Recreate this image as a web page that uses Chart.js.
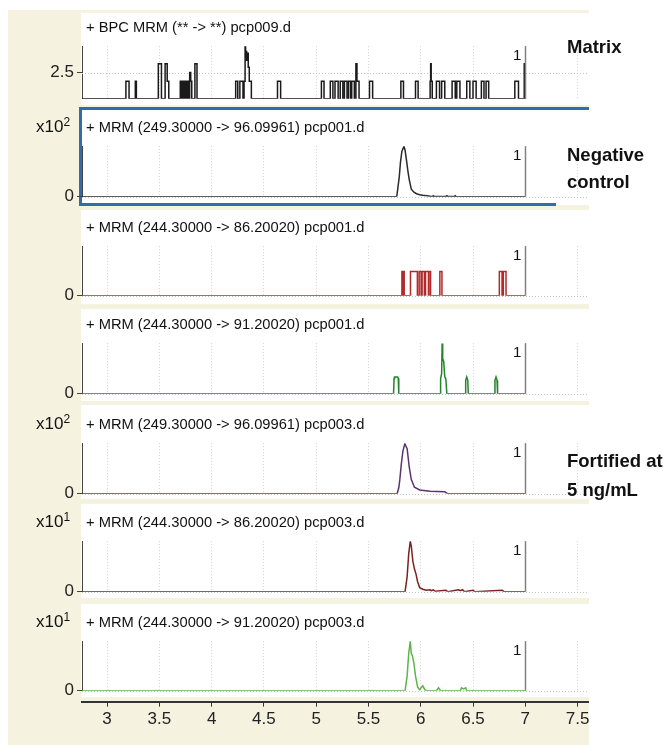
<!DOCTYPE html>
<html>
<head>
<meta charset="utf-8">
<script src="https://cdn.jsdelivr.net/npm/chart.js@4.4.1/dist/chart.umd.min.js"></script>
<style>
  html, body { margin: 0; padding: 0; background: #fff; }
  #page { position: relative; width: 665px; height: 745px; overflow: hidden; font-family: "Liberation Sans", Arial, sans-serif; color: #111; }
  .cream { position: absolute; left: 8px; top: 10px; width: 581px; height: 735px; background: #f5f2e0; }
  .pane { position: absolute; left: 81px; width: 508px; background: #fff; }
  .blue { position: absolute; background: #2f6cb0; }
  canvas { position: absolute; left: 0; }
  .title { position: absolute; left: 86px; font-size: 14.7px; line-height: 16px; white-space: nowrap; }
  .mult { position: absolute; left: 36px; font-size: 17px; line-height: 18px; }
  .mult sup { font-size: 12px; vertical-align: 6px; line-height: 0; }
  .one { position: absolute; left: 513px; font-size: 15px; line-height: 16px; }
  .side { position: absolute; left: 567px; font-size: 18.5px; font-weight: bold; line-height: 20px; white-space: nowrap; }
</style>
</head>
<body>
<div id="page">
  <div class="cream"></div>
  <div class="pane" style="top:13px;height:92px"></div>
  <div class="pane" style="top:108px;height:97px"></div>
  <div class="pane" style="top:210px;height:94px"></div>
  <div class="pane" style="top:309px;height:92px"></div>
  <div class="pane" style="top:405px;height:94px"></div>
  <div class="pane" style="top:504px;height:94px"></div>
  <div class="pane" style="top:604px;height:93px"></div>
  <div class="blue" style="left:79px;top:107px;width:510px;height:3px"></div>
  <div class="blue" style="left:79px;top:203px;width:477px;height:3px"></div>
  <div class="blue" style="left:79px;top:107px;width:3px;height:99px"></div>
</div>
<script>
// x axis (retention time, min)
const xTickValues = [3, 3.5, 4, 4.5, 5, 5.5, 6, 6.5, 7, 7.5];
const runStart = 2.76;
const runEnd = 7.0;

// Matrix, BPC MRM pcp009.d : level changes (value holds until next time)
const matrixTimes = [2.76, 3.18, 3.21, 3.27, 3.28, 3.49, 3.52, 3.555, 3.575, 3.59,
  3.70, 3.71, 3.72, 3.725, 3.73, 3.735, 3.74, 3.745, 3.75, 3.76, 3.77, 3.78, 3.79, 3.80, 3.81, 3.84, 3.86,
  4.23, 4.25, 4.27, 4.30, 4.31, 4.32, 4.325, 4.33, 4.335, 4.34, 4.35, 4.36, 4.38,
  4.63, 4.66, 5.05, 5.075, 5.135, 5.16, 5.18, 5.21, 5.23, 5.255, 5.27, 5.295, 5.31, 5.33, 5.34, 5.365,
  5.38, 5.39, 5.41, 5.51, 5.54, 5.81, 5.835, 5.95, 5.975, 6.09, 6.095, 6.10, 6.11,
  6.15, 6.18, 6.20, 6.23, 6.30, 6.33, 6.345, 6.375, 6.44, 6.47, 6.50, 6.53, 6.58, 6.605, 6.625, 6.65,
  6.90, 6.935, 6.99, 7.0];
const matrixLevels = [1, 2, 1, 2, 1, 3, 1, 3, 2, 1,
  2, 1, 2, 1, 2, 1, 2, 1, 2, 1, 2, 1, 2.5, 2, 1, 3, 1,
  2, 1, 2, 1, 2, 4, 3.4, 3.7, 3.2, 3.6, 2.8, 2, 1,
  2, 1, 2, 1, 2, 1, 2, 1, 2, 1, 2, 1, 2, 1, 2, 1,
  3, 2, 1, 2, 1, 2, 1, 2, 1, 2, 3, 2, 1,
  2, 1, 2, 1, 2, 1, 2, 1, 2, 1, 2, 1, 2, 1, 2, 1,
  2, 1, 3, 1];

// Negative control, MRM 249.3 -> 96.1 pcp001.d (x10^2 counts)
const neg96Time = [2.76, 5.77, 5.78, 5.795, 5.806, 5.82, 5.84, 5.85, 5.864, 5.878, 5.89, 5.91, 5.935, 5.96, 5.99, 6.02, 6.06, 6.09,
  6.11, 6.12, 6.13, 6.24, 6.25, 6.26, 6.32, 6.33, 6.34, 7.0];
const neg96Counts = [0, 0, 0.15, 0.4, 0.68, 0.9, 1.0, 0.92, 0.72, 0.5, 0.34, 0.15, 0.09, 0.06, 0.04, 0.03, 0.02, 0.01,
  0.005, 0.02, 0.005, 0.005, 0.02, 0.005, 0.005, 0.02, 0, 0];

// Negative control, MRM 244.3 -> 86.2 pcp001.d : level changes
const neg86Times = [2.76, 5.82, 5.826, 5.83, 5.835, 5.838, 5.842, 5.902, 5.968, 5.985, 6.004, 6.013, 6.035, 6.046, 6.074, 6.078, 6.094,
  6.183, 6.203, 6.752, 6.778, 6.79, 6.816, 7.0];
const neg86Levels = [0, 1, 0, 1, 0, 1, 0, 1, 0, 1, 0, 1, 0, 1, 0, 1, 0,
  1, 0, 1, 0, 1, 0, 0];

// Negative control, MRM 244.3 -> 91.2 pcp001.d
const neg91Time = [2.76, 5.74, 5.745, 5.75, 5.78, 5.785, 5.79, 6.185, 6.19, 6.2, 6.205, 6.21, 6.22, 6.23, 6.24, 6.25,
  6.425, 6.43, 6.44, 6.45, 6.455, 6.705, 6.71, 6.72, 6.73, 6.735, 7.0];
const neg91Counts = [0, 0, 0.9, 1, 1, 0.9, 0, 0, 0.9, 1.2, 3, 2.1, 1.9, 1, 0.9, 0,
  0, 0.8, 1, 0.8, 0, 0, 0.8, 1, 0.8, 0, 0];

// Fortified 5 ng/mL, MRM 249.3 -> 96.1 pcp003.d (x10^2 counts)
const fort96Time = [2.76, 5.774, 5.79, 5.80, 5.815, 5.83, 5.848, 5.87, 5.89, 5.91, 5.94, 5.99, 6.09, 6.23, 6.26, 7.0];
const fort96Counts = [0, 0, 0.12, 0.28, 0.6, 0.85, 0.99, 0.89, 0.53, 0.28, 0.13, 0.075, 0.05, 0.04, 0, 0];

// Fortified 5 ng/mL, MRM 244.3 -> 86.2 pcp003.d (x10^1 counts)
const fort86Time = [2.76, 5.85, 5.87, 5.885, 5.90, 5.91, 5.925, 5.94, 5.955, 5.97, 5.99, 6.02, 6.05, 6.09, 6.10, 6.12, 6.14,
  6.24, 6.26, 6.36, 6.38, 6.40, 6.42, 6.50, 6.52, 6.78, 6.80, 7.0];
const fort86Counts = [0, 0, 0.3, 0.75, 1.0, 0.9, 0.6, 0.45, 0.35, 0.2, 0.08, 0.05, 0.03, 0.04, 0.02, 0.04, 0.01,
  0.03, 0, 0.04, 0.02, 0.04, 0, 0.03, 0, 0.03, 0, 0];

// Fortified 5 ng/mL, MRM 244.3 -> 91.2 pcp003.d (x10^1 counts)
const fort91Time = [2.76, 5.85, 5.87, 5.885, 5.90, 5.91, 5.92, 5.935, 5.95, 5.97, 5.99, 6.00, 6.02, 6.04, 6.06, 6.15, 6.17, 6.19,
  6.38, 6.39, 6.41, 6.43, 6.44, 7.0];
const fort91Counts = [0, 0, 0.3, 0.75, 1.0, 0.75, 0.71, 0.55, 0.3, 0.08, 0.02, 0.05, 0.1, 0.02, 0, 0, 0.06, 0,
  0, 0.06, 0.04, 0.06, 0, 0];

const panelTitles = [
  '+ BPC MRM (** -> **) pcp009.d',
  '+ MRM (249.30000 -> 96.09961) pcp001.d',
  '+ MRM (244.30000 -> 86.20020) pcp001.d',
  '+ MRM (244.30000 -> 91.20020) pcp001.d',
  '+ MRM (249.30000 -> 96.09961) pcp003.d',
  '+ MRM (244.30000 -> 86.20020) pcp003.d',
  '+ MRM (244.30000 -> 91.20020) pcp003.d'
];
const panelExponents = [null, 2, null, null, 2, 1, 1];
const panelYTicks = [[2.5], [0], [0], [0], [0], [0], [0]];

Chart.defaults.font.family = '"Liberation Sans", Arial, sans-serif';
Chart.defaults.color = '#222';

const page = document.getElementById('page');

function toPoints(xs, ys) {
  return xs.map((x, i) => ({ x: x, y: ys[i] }));
}

// dotted y gridlines and the end-of-run line at 7 min
const panelFrame = {
  id: 'panelFrame',
  beforeDatasetsDraw(chart) {
    const { ctx, chartArea: a, scales: { y } } = chart;
    ctx.save();
    ctx.strokeStyle = '#c4c4c4';
    ctx.lineWidth = 1;
    ctx.setLineDash([1, 2]);
    y.ticks.forEach(t => {
      const py = Math.round(y.getPixelForValue(t.value)) + 0.5;
      ctx.beginPath();
      ctx.moveTo(a.left, py);
      ctx.lineTo(a.right, py);
      ctx.stroke();
    });
    ctx.restore();
  },
  afterDatasetsDraw(chart) {
    const { ctx, chartArea: a, scales: { x } } = chart;
    const xe = Math.round(x.getPixelForValue(runEnd)) + 0.5;
    ctx.save();
    ctx.strokeStyle = '#808080';
    ctx.lineWidth = 1.5;
    ctx.beginPath();
    ctx.moveTo(xe, a.top);
    ctx.lineTo(xe, a.bottom);
    ctx.stroke();
    ctx.restore();
  }
};

function addText(cls, html, top) {
  const d = document.createElement('div');
  d.className = cls;
  d.style.top = top + 'px';
  d.innerHTML = html;
  page.appendChild(d);
}

function makePanel(i, plotTop, plotBottom, points, color, yMin, yMax, stepped) {
  const pad = 12;
  const cv = document.createElement('canvas');
  cv.width = 600;
  cv.height = plotBottom - plotTop + 2 * pad;
  cv.style.top = (plotTop - pad) + 'px';
  page.appendChild(cv);

  new Chart(cv, {
    type: 'line',
    data: {
      datasets: [{
        data: points,
        borderColor: color,
        borderWidth: 1.5,
        pointRadius: 0,
        stepped: stepped ? 'before' : false,
        tension: 0,
        fill: false
      }]
    },
    options: {
      responsive: false,
      animation: false,
      parsing: false,
      layout: { padding: { top: pad, bottom: pad, left: 0, right: 12 } },
      plugins: { legend: { display: false }, tooltip: { enabled: false } },
      scales: {
        x: {
          type: 'linear',
          min: runStart,
          max: 7.6,
          afterBuildTicks: ax => { ax.ticks = xTickValues.map(v => ({ value: v })); },
          ticks: { display: false },
          grid: { color: '#d2d2d2', drawTicks: false },
          border: { display: false, dash: [1, 2] }
        },
        y: {
          min: yMin,
          max: yMax,
          afterBuildTicks: ax => { ax.ticks = panelYTicks[i].map(v => ({ value: v })); },
          afterFit: ax => { ax.width = 82; },
          ticks: { font: { size: 17 }, color: '#222', padding: 3, callback: v => String(v) },
          grid: { drawOnChartArea: false, tickLength: 5, tickColor: '#444' },
          border: { display: true, color: '#444', width: 1 }
        }
      }
    },
    plugins: [panelFrame]
  });

  addText('title', panelTitles[i], plotTop - 26);
  addText('one', '1', plotTop + 2);
  if (panelExponents[i] !== null) {
    addText('mult', 'x10<sup>' + panelExponents[i] + '</sup>', plotTop - 27);
  }
}

makePanel(0, 45, 100, toPoints(matrixTimes, matrixLevels), '#1a1a1a', 1, 4, true);
makePanel(1, 145, 198, toPoints(neg96Time, neg96Counts), '#2a2a2a', 0, 1.0, false);
makePanel(2, 245, 297, toPoints(neg86Times, neg86Levels), '#b3282b', 0, 2.05, true);
makePanel(3, 342, 395, toPoints(neg91Time, neg91Counts), '#23842a', 0, 3.0, false);
makePanel(4, 442, 495, toPoints(fort96Time, fort96Counts), '#5a3470', 0, 1.0, false);
makePanel(5, 540, 593, toPoints(fort86Time, fort86Counts), '#7a2222', 0, 1.0, false);
makePanel(6, 640, 692, toPoints(fort91Time, fort91Counts), '#5cb54a', 0, 1.0, false);

// shared retention-time axis (canvas tall enough that the axis box is not capped)
const axCanvas = document.createElement('canvas');
axCanvas.width = 600;
axCanvas.height = 83;
axCanvas.style.top = '662px';
page.appendChild(axCanvas);
new Chart(axCanvas, {
  type: 'line',
  data: { datasets: [] },
  options: {
    responsive: false,
    animation: false,
    layout: { padding: { top: 0, bottom: 12, left: 82, right: 12 } },
    plugins: { legend: { display: false }, tooltip: { enabled: false } },
    scales: {
      x: {
        type: 'linear',
        min: runStart,
        max: 7.6,
        afterBuildTicks: ax => { ax.ticks = xTickValues.map(v => ({ value: v })); },
        ticks: { font: { size: 17 }, color: '#222', padding: 3, maxRotation: 0, autoSkip: false, callback: v => String(v) },
        grid: { drawOnChartArea: false, tickLength: 5, tickColor: '#333' },
        border: { display: true, color: '#333', width: 2 }
      },
      y: { display: false, min: 0, max: 1 }
    }
  }
});

addText('side', 'Matrix', 37);
addText('side', 'Negative', 145);
addText('side', 'control', 172);
addText('side', 'Fortified at', 451);
addText('side', '5 ng/mL', 480);
</script>
</body>
</html>
